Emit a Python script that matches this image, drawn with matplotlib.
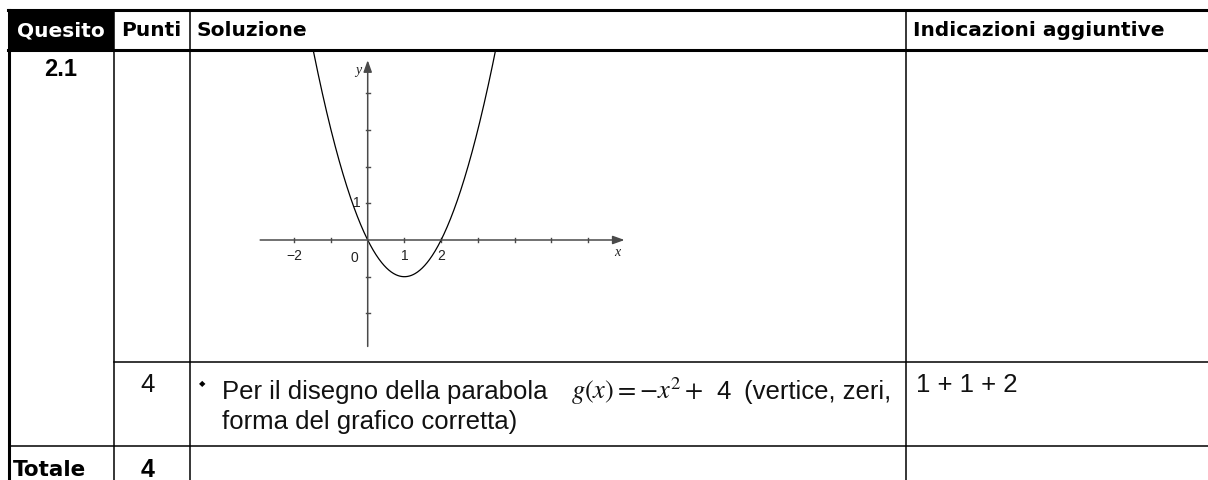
import matplotlib
matplotlib.use("Agg")
import matplotlib.pyplot as plt
import numpy as np

# ---- table content ----
headers = ["Quesito", "Punti", "Soluzione", "Indicazioni aggiuntive"]
question = "2.1"
points = "4"
total_points = "4"
solution_line1 = "Per il disegno della parabola"
solution_formula = r"$g(x) = -x^2 + $"
solution_formula_end = "4"
solution_tail = "(vertice, zeri,"
solution_line2 = "forma del grafico corretta)"
extra_note = "1 + 1 + 2"

# ---- parabola shown in the sketch: y = a x^2 + b x + c ----
coef_a, coef_b, coef_c = 1.0, -2.0, 0.0
x_ticks = [-2, -1, 1, 2, 3, 4, 5, 6]
y_ticks = [-2, -1, 1, 2, 3, 4]
x_tick_labels = {-2: "\u22122", 1: "1", 2: "2"}
y_tick_labels = {1: "1"}

W, H = 1208, 481
fig = plt.figure(figsize=(W / 100, H / 100), dpi=100)
ax = fig.add_axes([0, 0, 1, 1])
ax.set_xlim(0, W)
ax.set_ylim(H, 0)
ax.axis("off")

col_x = [9, 114, 190, 906, W]
row_y = [10.5, 50.5, 363, 447, H]
thick = 2.2
thin = 1.1

# header band for "Quesito"
ax.fill_between([col_x[0], col_x[1]], row_y[0], row_y[1], color="black", lw=0)

# horizontal rules
ax.plot([col_x[0] - 1, W], [row_y[0], row_y[0]], color="black", lw=thick)
ax.plot([col_x[0] - 1, W], [row_y[1], row_y[1]], color="black", lw=thick)
ax.plot([col_x[1], W], [row_y[2], row_y[2]], color="black", lw=thin)
ax.plot([col_x[0], W], [row_y[3], row_y[3]], color="black", lw=thin)

# vertical rules
ax.plot([col_x[0], col_x[0]], [row_y[0], H], color="black", lw=thick)
for cx in col_x[1:4]:
    ax.plot([cx, cx], [row_y[0], H], color="black", lw=thin)

# header text
hdr_font = dict(family="DejaVu Sans", weight="bold", size=14.5, va="center")
header_x = [17, 121, 197, 913]
for i, (hx, txt) in enumerate(zip(header_x, headers)):
    ax.text(hx, 31, txt, color="white" if i == 0 else "black", ha="left", **hdr_font)

ax.text(61, 69, question, family="Liberation Sans", weight="bold", size=17,
        ha="center", va="center")

body = dict(family="Liberation Sans", size=18.5, color="#111111")
ax.text(148, 392, points, ha="center", va="baseline", **body)
ax.text(202, 384, "\u25c6", family="DejaVu Sans", size=6, ha="center", va="center")
ax.text(222, 399, solution_line1, ha="left", va="baseline", **body)
ax.text(571, 399, solution_formula, ha="left", va="baseline", size=19,
        math_fontfamily="stix", color="#111111")
ax.text(716, 399, solution_formula_end, ha="left", va="baseline", **body)
ax.text(744, 399, solution_tail, ha="left", va="baseline", **body)
ax.text(222, 429, solution_line2, ha="left", va="baseline", **body)
ax.text(916, 392, extra_note, ha="left", va="baseline", **body)

ax.text(13, 470, "Totale", family="DejaVu Sans", weight="bold", size=15.5,
        ha="left", va="center")
ax.text(148, 470, total_points, family="Liberation Sans", weight="bold", size=18,
        ha="center", va="center")

# ---- the sketch of the parabola ----
unit = 36.7
ox, oy = 367.7, 241.0
xlim = (-3.2, 7.3)
ylim = (-3.0, 5.12)
left = ox + xlim[0] * unit
right = ox + xlim[1] * unit
top = oy - ylim[1] * unit
bottom = oy - ylim[0] * unit
gax = fig.add_axes([left / W, 1 - bottom / H, (right - left) / W, (bottom - top) / H])
gax.set_xlim(*xlim)
gax.set_ylim(*ylim)
gax.axis("off")
gax.patch.set_alpha(0)

axis_col = "#4a4a4a"
arrow = dict(arrowstyle="-|>,head_length=0.5,head_width=0.18", color=axis_col,
             lw=1.1, shrinkA=0, shrinkB=0, mutation_scale=14)
gax.annotate("", xy=(7.0, 0), xytext=(-2.93, 0), arrowprops=arrow)
gax.annotate("", xy=(0, 4.9), xytext=(0, -2.9), arrowprops=arrow)

tk = 0.05
for t in x_ticks:
    gax.plot([t, t], [-tk, tk], color=axis_col, lw=1.0)
for t in y_ticks:
    gax.plot([-tk, tk], [t, t], color=axis_col, lw=1.0)

lab = dict(family="Liberation Sans", size=10, color="#222222", ha="center", va="center")
for t, s in x_tick_labels.items():
    gax.text(t, -0.4, s, **lab)
gax.text(-0.35, -0.45, "0", **lab)
for t, s in y_tick_labels.items():
    gax.text(-0.3, t + 0.03, s, **lab)
gax.text(6.8, -0.32, "x", family="Liberation Serif", style="italic", size=10,
         color="#222222", ha="center", va="center")
gax.text(-0.27, 4.65, "y", family="Liberation Serif", style="italic", size=10,
         color="#222222", ha="center", va="center")

xs = np.linspace(-1.6, 3.6, 400)
gax.plot(xs, coef_a * xs ** 2 + coef_b * xs + coef_c, color="black", lw=0.9)

fig.savefig("out.png", dpi=100)
